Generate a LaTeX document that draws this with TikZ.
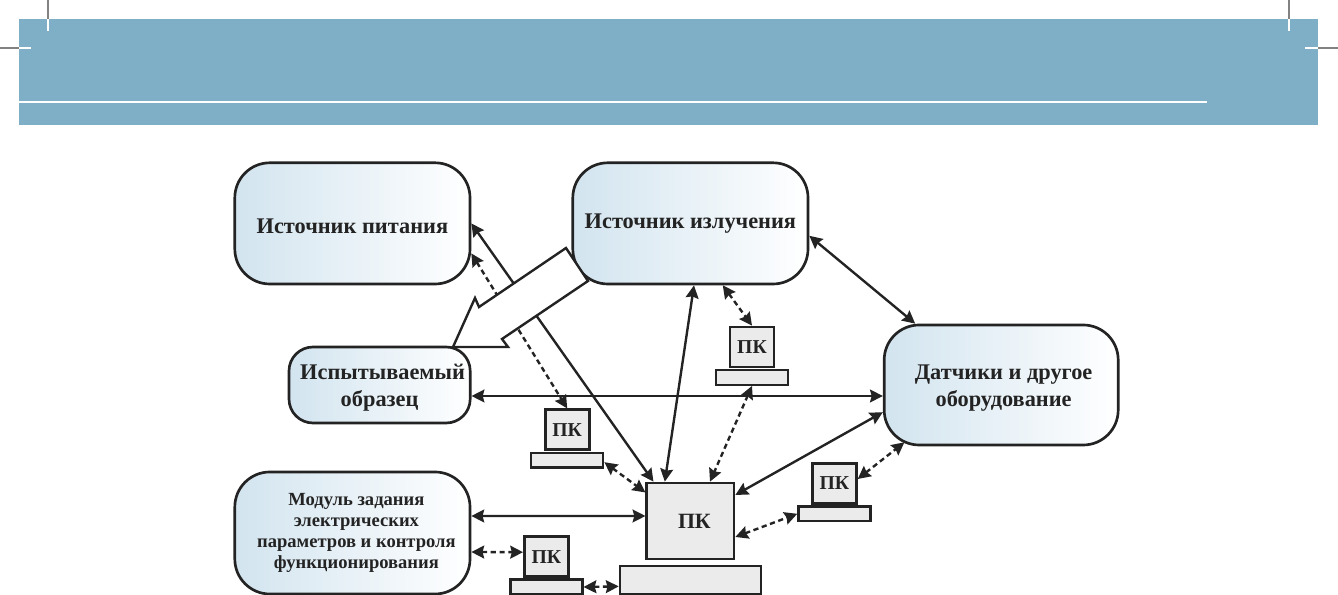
\documentclass[tikz,border=0pt]{standalone}
\usepackage{fontspec}
\setmainfont{Liberation Serif}
\usetikzlibrary{arrows.meta,positioning}
\definecolor{bannerblue}{RGB}{126,175,199}
\definecolor{boxblue}{RGB}{210,228,239}
\definecolor{pcgray}{RGB}{235,235,235}
\definecolor{inkdark}{RGB}{35,35,35}
\definecolor{markgray}{RGB}{130,130,130}
\newcommand{\lowered}{\rule{0pt}{15pt}}
\tikzset{
  block/.style={draw=inkdark,line width=1.9pt,left color=boxblue,right color=white,
                rounded corners=8.75mm,minimum width=5.88cm,minimum height=3.03cm,
                inner sep=0pt,align=center,text=inkdark,font=\fontsize{15.9}{19.5}\selectfont\bfseries},
  pcbox/.style={draw=inkdark,line width=1.9pt,fill=pcgray,minimum width=1.1cm,minimum height=1cm,
                inner sep=0pt,text=inkdark,font=\fontsize{14}{16}\selectfont\bfseries},
  pcbase/.style={draw=inkdark,line width=1.6pt,fill=pcgray,minimum width=1.8cm,minimum height=0.37cm,inner sep=0pt},
  link/.style={{Stealth[length=3.2mm,width=3.2mm,inset=0.4mm]}-{Stealth[length=3.2mm,width=3.2mm,inset=0.4mm]},draw=inkdark,line width=1.7pt},
  dashlink/.style={link,dash pattern=on 1.3mm off 0.9mm},
  cutmark/.style={white,line width=1pt},
  trimmark/.style={markgray,line width=0.8pt},
}
\begin{document}
\begin{tikzpicture}[x=1cm,y=1cm]
  \path[use as bounding box] (0,0) rectangle (33.45,14.875);
  \fill[bannerblue] (0.475,11.75) rectangle (32.95,14.4);
  \draw[white,line width=2pt] (0.475,12.325) -- (30.175,12.325);
  \foreach \x in {1.2,32.225}{
    \draw[trimmark] (\x,14.875) -- (\x,14.4);
    \draw[cutmark] (\x,14.4) -- (\x,14.1);
  }
  \draw[trimmark] (0,13.675) -- (0.475,13.675);
  \draw[cutmark] (0.475,13.675) -- (0.775,13.675);
  \draw[trimmark] (32.95,13.675) -- (33.45,13.675);
  \draw[cutmark] (32.625,13.675) -- (32.95,13.675);

  \node[block] (source) at (8.81,9.29) {\lowered Источник питания};
  \node[block] (emitter) at (17.26,9.29) {Источник излучения};
  \node[block,minimum width=4.53cm,minimum height=1.9cm,rounded corners=6mm] (sample) at (9.49,5.25)
    {\lowered\hspace*{1.5mm}Испытываемый\\образец};
  \node[block,minimum width=5.85cm,minimum height=3cm] (sensors) at (25.03,5.25)
    {\lowered\hspace*{1.2mm}Датчики и другое\\\hspace*{1.2mm}оборудование};
  \node[block,minimum height=3.05cm,font=\fontsize{13.2}{15}\selectfont\bfseries] (module) at (8.81,1.55)
    {\hspace*{2mm}Модуль задания\\\hspace*{2mm}электрических\\\hspace*{2mm}параметров и контроля\\\hspace*{2mm}функционирования};

  \node[pcbox,minimum width=2.18cm,minimum height=1.9cm,font=\fontsize{15.5}{18}\selectfont\bfseries] (main) at (17.26,1.85) {\hspace*{2mm}ПК};
  \node[pcbase,minimum width=3.53cm,minimum height=0.7cm] (main-base) at (17.26,0.375) {};
  \foreach \name/\x/\y in {pctop/18.8/6.2,pcleft/14.18/4.13,pcright/20.86/2.79,pclow/13.66/0.96}{
    \node[pcbox] (\name) at (\x,\y) {ПК};
    \node[pcbase] (\name-base) at (\x,\y-0.76) {};
  }

  \draw[link] (source.east) -- ([xshift=2mm]main.north west);
  \draw[dashlink] ([yshift=-7.5mm]source.east) -- (pcleft.north);
  \draw[link] ([xshift=0.9mm]emitter.south) -- ([xshift=-6.4mm]main.north);
  \draw[dashlink] ([xshift=8.1mm]emitter.south) -- (pctop.north);
  \draw[dashlink] (pctop-base.south) -- ([xshift=4.9mm]main.north);
  \draw[link] ([yshift=-2.75mm]sample.east) -- ([yshift=-2.75mm]sensors.west);
  \draw[link] ([yshift=-3.1mm]emitter.east) -- ([xshift=-21.5mm]sensors.north);
  \draw[link] ([yshift=6.5mm]main.east) -- ([yshift=-6.8mm]sensors.west);
  \draw[dashlink] ([yshift=-4mm]main.east) -- (pcright-base.west);
  \draw[dashlink] ([yshift=1.1mm]pcright.east) -- ([shift={(-2.42,0.1)}]sensors.south);
  \draw[dashlink] ([yshift=-0.5mm]pcleft-base.east) -- ([yshift=-2.7mm]main.north west);
  \draw[link] ([yshift=4.25mm]module.east) -- ([yshift=1.25mm]main.west);
  \draw[dashlink] ([yshift=-4.75mm]module.east) -- ([yshift=1.1mm]pclow.west);
  \draw[dashlink] (pclow-base.east) -- ([yshift=-1.6mm]main-base.west);

  \draw[inkdark,line width=1.7pt,fill=white,line join=miter] (14.15,8.675) -- (14.7,7.85) -- (12.55,6.4) -- (12.7,6.2)
    -- (11.325,6.2) -- (11.875,7.425) -- (11.975,7.2) -- cycle;
\end{tikzpicture}
\end{document}
